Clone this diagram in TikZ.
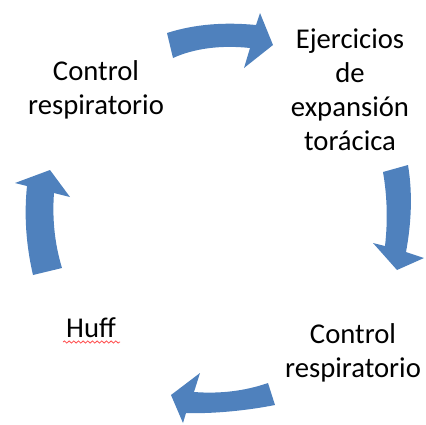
\documentclass[tikz,border=0pt]{standalone}
\usepackage{fontspec}
\setmainfont{Carlito}
\usetikzlibrary{decorations.pathmorphing}
\definecolor{arrowblue}{HTML}{4F81BD}
\tikzset{
  label text/.style={font=\fontsize{21.5}{25.5}\selectfont, align=center, inner sep=0pt, text=black},
  cyc arrow/.style={fill=arrowblue, draw=none},
  spell/.style={draw=red!70, line width=0.6pt, decorate, decoration={snake, amplitude=0.8, segment length=3.5}}
}
\begin{document}
\begin{tikzpicture}[x=0.75pt, y=-0.75pt]
\useasboundingbox (0,0) rectangle (426,425);
% labels
\node[label text, anchor=north] (tl) at (96,60) {Control\\respiratorio};
\node[label text, anchor=north] (tr) at (350,28.5) {Ejercicios\\de\\expansión\\torácica};
\node[label text, anchor=north] (br) at (353,323) {Control\\respiratorio};
\node[label text, anchor=base] (huff) at (91,337) {Huff};
\coordinate (ulA) at (63,342);
\coordinate (ulB) at (120,342);
\draw[spell] (ulA) -- (ulB);
% arrow top
\path[cyc arrow] (167,33) .. controls (195,24) and (225,22) .. (256,25) -- (260,13) -- (273,45) -- (244,68) -- (250,48) .. controls (222,45) and (195,48) .. (173,58) -- cycle;
% arrow right
\path[cyc arrow] (383,172) -- (408,165) .. controls (413,195) and (411,225) .. (406,252) -- (424,258) -- (397,270) -- (373,243) -- (385,246) .. controls (388,220) and (387,195) .. (383,172) -- cycle;
% arrow bottom
\path[cyc arrow] (268,383) .. controls (245,391) and (220,394) .. (194,392) -- (200,373) -- (171,395) -- (183,423) -- (186,413) .. controls (215,414) and (250,410) .. (275,405) -- cycle;
% arrow left
\path[cyc arrow] (33,275) .. controls (26,245) and (24,215) .. (27,186) -- (15,183) -- (50,170) -- (70,197) -- (54,193) .. controls (52,220) and (55,245) .. (62,268) -- cycle;
\end{tikzpicture}
\end{document}
